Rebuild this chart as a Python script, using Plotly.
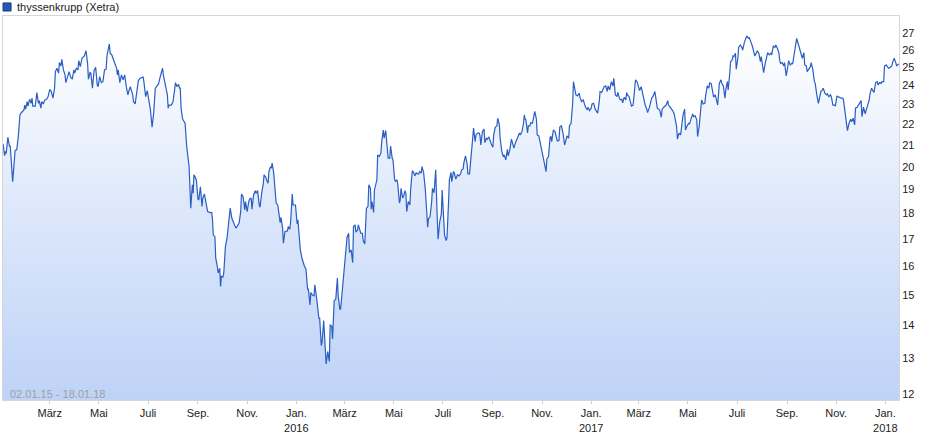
import plotly.graph_objects as go
import pandas as pd

# ---------------- data ----------------
start_date = "2015-01-02"

day_offsets = [
    0, 2, 3, 4, 6, 8, 9, 12, 15, 17,
    19, 21, 23, 26, 27, 28, 30, 31, 33, 35,
    36, 37, 40, 42, 44, 45, 47, 48, 50, 52,
    54, 56, 58, 60, 62, 64, 65, 67, 69, 70,
    72, 73, 75, 77, 78, 80, 82, 84, 86, 88,
    89, 91, 93, 94, 96, 98, 101, 103, 105, 106,
    108, 109, 111, 113, 115, 117, 118, 120, 122, 124,
    126, 128, 129, 132, 133, 135, 138, 141, 142, 143,
    145, 147, 149, 151, 153, 155, 156, 158, 161, 162,
    164, 166, 168, 170, 174, 175, 177, 179, 181, 183,
    185, 187, 189, 191, 193, 195, 198, 199, 202, 204,
    205, 206, 209, 211, 213, 214, 216, 218, 219,
    220, 221, 223, 226, 228, 231, 233, 235, 236, 237,
    240, 242, 243, 245, 247, 248, 250, 252, 254, 257,
    259, 260, 261, 263, 264, 266, 267, 269, 270, 271,
    273, 274, 276, 278, 280, 282, 284, 286, 289, 291,
    293, 295, 296, 298, 300, 301, 303, 305, 306, 308,
    309, 311, 313, 314, 316, 318, 319, 321, 323, 324,
    326, 327, 329, 330, 332, 333, 334, 336, 338, 339,
    341, 343, 344, 345, 347, 348, 350, 353, 354, 356,
    357, 359, 360, 363, 365, 366, 367, 369, 371, 372,
    374, 376, 377, 378, 379, 381, 382, 384, 386, 387,
    389, 391, 392, 393, 395, 396, 398, 399, 401, 403,
    405, 406, 408, 409, 411, 413, 415, 416, 418, 419,
    420, 422, 424, 425, 427, 429, 430, 432, 434, 435,
    437, 438, 440, 441, 444,
    446, 447, 449, 451, 453, 454, 456, 457, 458, 460,
    461, 463, 464, 465, 467, 469, 470, 472, 473, 475,
    477, 478, 480, 481, 483, 484, 486, 487, 489, 490,
    492, 493, 494, 496, 497, 499, 500, 501, 503, 505,
    506, 508, 510, 511, 513, 514, 516, 517, 519, 520,
    522, 524, 526, 527, 528, 530, 532, 533, 535, 537,
    539, 540, 542, 544, 545, 547, 548, 550, 551, 553,
    554, 556, 557, 559, 560, 562, 564, 566, 568, 569,
    571, 572, 574, 576, 577, 579, 581, 582, 584, 586,
    587, 589, 591, 592, 593, 595, 597, 598, 600, 601,
    603, 605, 606, 608, 609, 611, 613, 614, 616, 617,
    619, 621, 622, 624, 626, 627, 629, 631, 632, 634,
    636, 638, 639, 641, 642, 644, 646, 647, 648, 649,
    651, 652, 654, 655, 657, 658, 660, 662, 663, 665,
    667,
    669, 671, 674, 675, 677, 679, 680, 681, 683, 685,
    687, 688, 690, 691, 693, 695, 697, 698, 700, 702,
    703, 705, 707, 708, 710, 711, 713, 715, 716, 718,
    720, 721, 723, 725, 726, 728, 730, 731, 733, 735,
    736, 738, 740, 741, 743, 745, 746, 748, 750, 751,
    753, 755, 757, 758, 760, 762, 763, 765, 766, 768,
    769, 771, 773, 774, 775, 777, 779, 780, 782, 784,
    785, 787, 789, 790, 792, 794, 795, 797, 799, 800,
    802, 804, 805, 807, 809, 810, 812, 814, 815, 817,
    818, 820, 822, 823, 825, 826, 828, 830, 831, 833,
    835, 836, 837, 839, 841, 842, 844, 846, 847, 849,
    851, 852, 854, 856, 857, 859, 861, 862, 864, 866,
    867, 869, 871, 872, 874, 876, 877, 879, 881, 882,
    884, 886, 887, 889, 891,
    892, 894, 896, 897, 899, 900, 902, 903, 905, 906,
    907, 909, 910, 912, 913, 915, 917, 918, 920, 922,
    923, 925, 926, 928, 930, 932, 933, 935, 936, 938,
    940, 941, 943, 944, 946, 948, 949, 951, 953, 954,
    956, 958, 959, 961, 963, 964, 965, 967, 969, 970,
    972, 974, 975, 977, 979, 980, 982, 984, 985, 987,
    989, 990, 992, 994, 995, 997, 998, 1000, 1002, 1003,
    1005, 1007, 1008, 1010, 1012, 1013, 1015, 1017, 1018, 1020,
    1022, 1023, 1025, 1027, 1028, 1030, 1032, 1033, 1035, 1037,
    1038, 1040, 1042, 1043, 1045, 1047, 1048, 1050, 1052, 1053,
    1055, 1057, 1058, 1060, 1061, 1063, 1065, 1066, 1068, 1070,
    1071, 1073, 1075, 1076, 1078, 1080, 1081, 1083, 1085, 1086,
    1088, 1090, 1091, 1093, 1094, 1096, 1098, 1099, 1101, 1103,
    1104, 1106, 1108, 1109, 1111, 1112,
]

prices = [
    21.05, 20.5, 20.7, 20.6, 21.37, 20.95, 20.95, 19.34, 20.74, 20.77,
    21.4, 22.47, 22.59, 22.72, 22.97, 22.76, 23.15, 22.92, 23.27, 23.06,
    23.33, 22.92, 22.92, 23.63, 23.06, 23.2, 22.81, 23.15, 23.03, 23.24,
    23.27, 23.41, 23.8, 23.68, 23.33, 23.86, 24.76, 24.95, 24.68, 25.27,
    25.08, 25.46, 24.86, 24.58, 24.16, 24.46, 24.76, 24.46, 24.35, 24.86,
    24.68, 24.95, 24.86, 25.38, 25.04, 25.52, 25.65, 25.95, 25.23, 24.35,
    24.71, 24.68, 23.86, 24.82, 25.0, 24.03, 23.94, 24.49, 24.16, 24.21,
    24.86, 24.9, 25.65, 26.35, 25.8, 25.71, 25.27, 24.95, 24.58, 24.86,
    24.16, 24.58, 24.31, 24.58, 23.94, 23.5, 23.68, 23.94, 23.5, 23.15,
    23.03, 23.59, 24.27, 24.4, 24.46, 24.16, 23.41, 23.73, 23.27, 22.72,
    21.86, 22.56, 23.86, 23.98, 24.09, 24.46, 24.95, 24.58, 24.03, 23.5,
    22.81, 22.97, 22.97, 23.15, 23.77, 24.16, 23.94, 24.07, 23.86,
    23.86, 22.81, 22.25, 22.05, 20.92, 20.0, 18.22, 19.2, 18.84, 19.64,
    19.41, 18.59, 18.56, 19.12, 18.29, 18.64, 18.81, 18.43, 18.08, 18.04,
    18.05, 17.75, 17.16, 17.09, 16.29, 15.98, 15.75, 15.92, 15.28, 15.63,
    15.61, 15.75, 16.71, 17.03, 17.75, 18.22, 17.81, 17.62, 17.42, 17.51,
    17.62, 18.08, 18.81, 18.7, 18.15, 18.49, 18.08, 18.49, 18.59, 18.64,
    18.18, 18.77, 18.95, 18.84, 18.95, 18.35, 18.26, 18.84, 19.24, 19.64,
    19.54, 19.42, 19.27, 19.78, 20.0, 19.93, 20.16, 19.71, 18.98, 18.43,
    18.35, 17.68, 17.64, 17.85, 17.42, 16.84, 17.29, 17.31, 17.48, 17.38,
    17.68, 18.81, 18.35, 18.35, 17.59, 17.75, 17.22, 16.59, 16.29, 16.16,
    16.0, 15.89, 15.63, 15.19, 15.19, 14.66, 15.07, 14.99, 14.96, 15.34,
    14.94, 14.5, 14.23, 14.23, 13.38, 13.48, 14.15, 13.71, 12.84, 13.2,
    12.91, 14.01, 13.98, 13.58, 14.8, 14.85, 15.57, 14.96, 14.52, 14.52,
    14.8, 15.51, 16.22, 16.47, 17.07, 17.22, 16.49, 16.59, 16.12, 17.48,
    17.55, 17.26, 17.35, 17.55, 17.22,
    17.22, 16.94, 16.81, 18.22, 18.29, 19.2, 19.05, 18.18, 18.49, 18.04,
    18.98, 19.27, 19.42, 20.54, 20.46, 20.62, 21.16, 21.72, 21.32, 21.69,
    20.92, 20.39, 20.39, 20.95, 20.39, 20.31, 19.45, 19.34, 19.42, 19.2,
    18.43, 18.56, 19.05, 18.64, 18.7, 18.95, 18.84, 18.08, 18.49, 18.35,
    19.05, 19.82, 19.71, 19.59, 19.74, 19.68, 19.68, 19.78, 19.71, 20.0,
    19.74, 19.05, 18.01, 17.46, 17.78, 17.88, 18.49, 19.05, 18.86, 19.86,
    17.75, 16.99, 17.68, 17.98, 18.98, 18.01, 17.16, 16.94, 17.03, 18.49,
    19.42, 19.74, 19.34, 19.78, 19.74, 19.45, 19.64, 19.59, 19.68, 19.86,
    19.89, 20.18, 20.49, 20.12, 19.68, 19.68, 20.31, 20.92, 21.81, 21.16,
    21.48, 21.57, 21.57, 21.43, 21.0, 21.64, 21.76, 21.11, 21.32, 21.28,
    21.37, 21.08, 21.05, 20.89, 21.48, 21.86, 21.92, 22.3, 21.97, 21.32,
    20.7, 20.45, 20.54, 20.31, 20.8, 20.49, 20.77, 21.28, 21.16, 20.85,
    21.11, 21.28, 21.32, 21.57, 21.48, 21.64, 22.05, 22.47, 22.25, 22.22,
    21.57, 21.92, 21.92, 22.08, 22.05, 22.22, 22.65, 22.25, 21.48, 21.43,
    21.05,
    20.54, 20.18, 19.78, 20.35, 20.46, 21.37, 21.4, 21.16, 21.72, 21.64,
    21.24, 21.19, 21.21, 21.86, 21.92, 21.57, 21.0, 21.16, 21.43, 21.32,
    21.92, 22.05, 23.06, 24.21, 23.56, 23.5, 23.45, 23.59, 23.38, 23.15,
    23.24, 23.09, 22.86, 22.72, 22.86, 22.69, 22.81, 23.03, 23.06, 22.76,
    22.69, 22.56, 23.15, 23.68, 23.63, 23.86, 23.94, 23.98, 23.68, 23.98,
    23.77, 24.21, 23.98, 24.4, 23.5, 23.41, 23.63, 23.33, 23.24, 23.27,
    23.09, 23.38, 23.24, 23.63, 23.5, 23.41, 23.09, 22.92, 22.97, 23.94,
    24.31, 24.21, 23.86, 23.73, 23.94, 23.5, 23.27, 22.97, 22.76, 22.59,
    22.81, 23.09, 23.33, 23.45, 23.68, 23.41, 22.81, 22.76, 22.72, 22.35,
    22.76, 22.86, 22.92, 22.97, 23.2, 22.97, 22.86, 22.76, 22.69, 22.52,
    22.13, 21.88, 21.28, 21.57, 21.48, 21.88, 22.47, 22.76, 21.72, 21.92,
    22.05, 22.02, 22.22, 22.52, 22.38, 22.42, 22.22, 21.4, 21.88, 23.15,
    23.24, 23.03, 23.06, 23.45, 23.98, 23.86, 24.16, 24.09, 23.68, 23.38,
    23.5, 23.06, 22.97, 24.12, 24.31,
    24.12, 23.98, 23.33, 23.77, 24.21, 23.77, 24.68, 25.33, 25.42, 25.65,
    25.61, 25.81, 24.9, 25.52, 26.15, 26.29, 26.15, 25.99, 26.43, 26.69,
    26.83, 26.69, 26.75, 26.49, 26.23, 25.84, 25.65, 25.84, 25.95, 25.81,
    25.33, 25.61, 25.04, 24.71, 25.23, 25.58, 25.84, 25.71, 25.81, 25.71,
    26.23, 26.15, 26.29, 26.1, 25.81, 25.38, 25.23, 25.27, 25.08, 25.27,
    24.53, 25.04, 25.38, 25.14, 25.23, 25.19, 25.81, 26.15, 26.69, 26.35,
    26.03, 25.81, 25.52, 25.84, 25.14, 25.08, 24.76, 24.9, 25.04, 25.27,
    24.9, 24.21, 24.12, 23.5, 23.06, 23.27, 23.68, 23.77, 23.86, 23.59,
    23.5, 23.56, 23.41, 23.5, 23.41, 22.97, 22.97, 22.92, 23.45, 23.38,
    23.38, 23.33, 23.33, 23.27, 22.65, 22.22, 21.69, 22.05, 22.25, 22.13,
    22.3, 21.97, 22.81, 22.86, 22.92, 23.09, 23.2, 22.38, 22.86, 22.52,
    22.65, 22.89, 23.24, 23.56, 23.86, 23.68, 23.63, 24.16, 24.21, 24.03,
    24.16, 24.12, 24.21, 24.21, 25.08, 25.14, 25.04, 24.95, 25.0, 25.08,
    25.27, 25.52, 25.27, 25.08, 25.17, 25.19,
]

y_ticks = list(range(12, 28))

month_ticks = [
    "2015-03-01", "2015-05-01", "2015-07-01", "2015-09-01", "2015-11-01",
    "2016-01-01", "2016-03-01", "2016-05-01", "2016-07-01", "2016-09-01",
    "2016-11-01", "2017-01-01", "2017-03-01", "2017-05-01", "2017-07-01",
    "2017-09-01", "2017-11-01", "2018-01-01",
]
month_labels = [
    "März", "Mai", "Juli", "Sep.", "Nov.",
    "Jan.<br>2016", "März", "Mai", "Juli", "Sep.",
    "Nov.", "Jan.<br>2017", "März", "Mai", "Juli",
    "Sep.", "Nov.", "Jan.<br>2018",
]

series_name = "thyssenkrupp (Xetra)"
period_text = "02.01.15 - 18.01.18"
end_date = "2018-01-18"

assert len(day_offsets) == len(prices)

# ---------------- figure ----------------
dates = pd.Timestamp(start_date) + pd.to_timedelta(day_offsets, unit="D")

FONT = "Liberation Sans, Arial, sans-serif"
LINE_BLUE = "#2a5ec4"
FRAME = "#d6d6d6"

fig = go.Figure()

# invisible baseline below the visible range, so the area fills to the bottom
fig.add_trace(go.Scatter(
    x=[dates[0], dates[-1]], y=[11.0, 11.0],
    mode="lines", line=dict(width=0, color="rgba(0,0,0,0)"),
    hoverinfo="skip", showlegend=False,
))

fig.add_trace(go.Scatter(
    x=dates, y=prices, name=series_name,
    mode="lines",
    line=dict(color=LINE_BLUE, width=1.2),
    fill="tonexty",
    fillgradient=dict(
        type="vertical",
        colorscale=[[0.0, "#b9cff6"], [0.55, "#dce7fb"], [1.0, "#ffffff"]],
    ),
    showlegend=False,
))

fig.update_layout(
    width=940, height=435,
    margin=dict(l=3, r=41, t=16, b=35, autoexpand=False),
    paper_bgcolor="white",
    plot_bgcolor="white",
    font=dict(family=FONT, size=11, color="#222222"),
    showlegend=False,
    xaxis=dict(
        type="date",
        range=[start_date, end_date],
        tickvals=month_ticks,
        ticktext=month_labels,
        tickangle=0,
        automargin=False,
        showgrid=False,
        zeroline=False,
        showline=True, linecolor=FRAME, linewidth=1, mirror=True,
        ticks="outside", ticklen=3, tickcolor="#cfcfcf",
        tickfont=dict(family=FONT, size=11, color="#222222"),
    ),
    yaxis=dict(
        type="log",
        range=[1.0733, 1.4481],
        side="right",
        tickvals=y_ticks,
        ticktext=[str(v) for v in y_ticks],
        automargin=False,
        showgrid=False,
        zeroline=False,
        showline=True, linecolor=FRAME, linewidth=1, mirror=True,
        ticks="",
        tickfont=dict(family=FONT, size=11, color="#222222"),
    ),
)

# legend marker (square) and title text above the plot
fig.add_shape(
    type="rect", xref="paper", yref="paper",
    x0=0.0, x1=0.009, y0=1.013, y1=1.034,
    fillcolor="#2457b8", line=dict(color="#1b3f86", width=1),
)
fig.add_annotation(
    text=series_name, xref="paper", yref="paper",
    x=0.0135, y=1.0234, xanchor="left", yanchor="middle",
    showarrow=False, font=dict(family=FONT, size=11, color="#222222"),
)
# period text inside the plot, bottom-left
fig.add_annotation(
    text=period_text, xref="paper", yref="paper",
    x=0.0056, y=0.016, xanchor="left", yanchor="middle",
    showarrow=False, font=dict(family=FONT, size=11, color="#a0a0a0"),
)

fig.write_html(
    "out.html",
    config={"displayModeBar": False},
    post_script="document.body.style.margin='0';document.body.style.padding='0';",
)
